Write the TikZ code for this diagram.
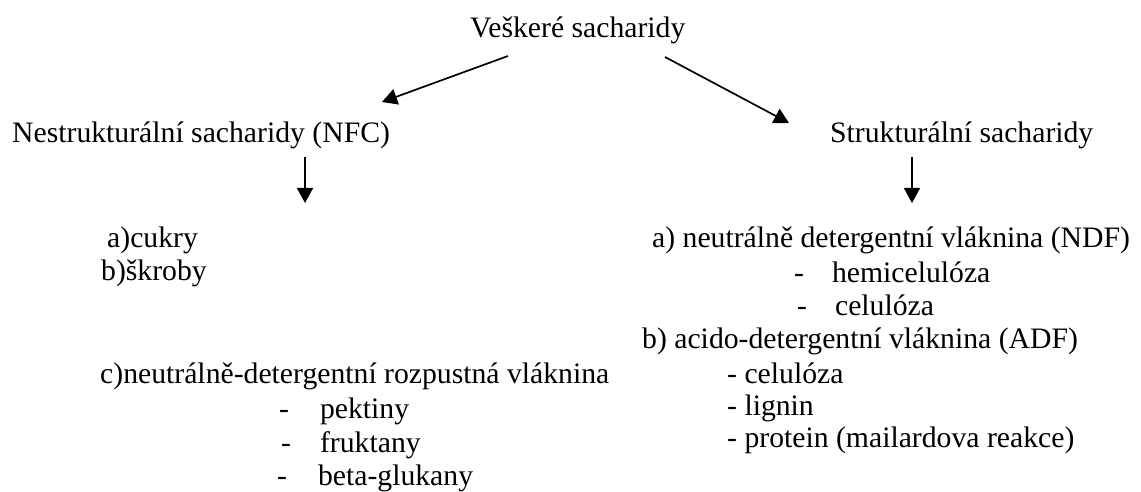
\documentclass[tikz,border=0pt]{standalone}
\usepackage{fontspec}
\setmainfont{Liberation Serif}
\usetikzlibrary{arrows.meta}
\begin{document}
\begin{tikzpicture}[x=1pt,y=-1pt,
  lbl/.style={anchor=base west, inner sep=0pt, font=\fontsize{29.7}{34.5}\selectfont},
  arr/.style={line width=1.7pt, -{Triangle[length=15pt,width=16pt]}}]
\useasboundingbox[fill=white] (0,0) rectangle (1141,492);
% top
\node[lbl] (top) at (470,38) {Veškeré sacharidy};
% level 2
\node[lbl] (nfc) at (12,143) {Nestrukturální sacharidy (NFC)};
\node[lbl] (str) at (830,143) {Strukturální sacharidy};
% left column
\node[lbl] (cuk) at (107,247) {a)cukry};
\node[lbl] (skr) at (101,280) {b)škroby};
\node[lbl] (ndr) at (100,383) {c)neutrálně-detergentní rozpustná vláknina};
\node[lbl] (pek) at (279,418) {-\hspace{31pt}pektiny};
\node[lbl] (fru) at (281,452) {-\hspace{29pt}fruktany};
\node[lbl] (bet) at (277,485) {-\hspace{31pt}beta-glukany};
% right column
\node[lbl] (ndf) at (652,247) {a) neutrálně detergentní vláknina (NDF)};
\node[lbl] (hem) at (794,282) {-\hspace{28pt}hemicelulóza};
\node[lbl] (cel1) at (797,315) {-\hspace{28pt}celulóza};
\node[lbl] (adf) at (642,348) {b) acido-detergentní vláknina (ADF)};
\node[lbl] (cel2) at (727,383) {- celulóza};
\node[lbl] (lig) at (727,415) {- lignin};
\node[lbl] (pro) at (727,447) {- protein (mailardova reakce)};
% arrow end points
\coordinate (l0) at (508,56);
\coordinate (l1) at (382,102);
\coordinate (r0) at (665,57);
\coordinate (r1) at (789,123);
\coordinate (dl0) at (305,157);
\coordinate (dl1) at (305,203);
\coordinate (dr0) at (912,157);
\coordinate (dr1) at (912,203);
\draw[arr] (l0) -- (l1);
\draw[arr] (r0) -- (r1);
\draw[arr] (dl0) -- (dl1);
\draw[arr] (dr0) -- (dr1);
\end{tikzpicture}
\end{document}
